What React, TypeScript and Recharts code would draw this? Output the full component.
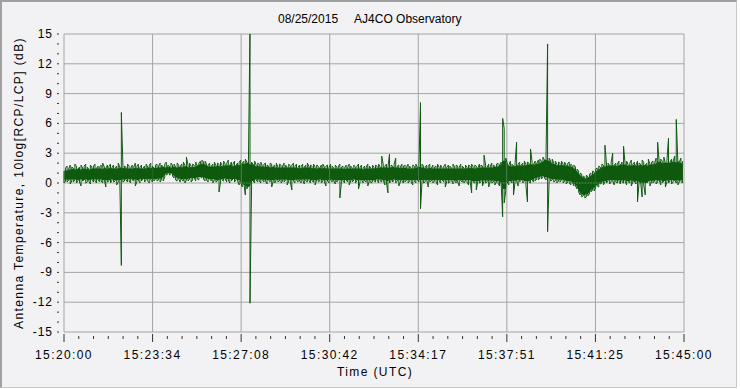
import { ComposedChart, Line, Area, XAxis, YAxis, ReferenceLine } from 'recharts';

// sample interval (s) between envelope buckets, record spans 15:20:00 - 15:45:00
const STEP = 3.75;
const SPAN = 1500;

// per-bucket upper envelope (dB), 20 buckets per row
const HI = [
    1.2, 1.5, 1.7, 1.4, 1.8, 1.6, 1.5, 1.9, 1.7, 1.4, 1.6, 1.8, 1.5, 1.7, 1.9, 1.6, 1.4, 1.8, 1.6, 1.7,
    1.9, 1.5, 1.7, 1.6, 1.8, 2.0, 1.6, 1.5, 1.8, 1.7, 1.9, 1.6, 1.8, 1.5, 1.7, 2.0, 1.6, 7.1, 1.8, 1.7,
    1.6, 1.9, 1.7, 1.5, 1.8, 1.6, 2.0, 1.7, 1.9, 1.6, 1.8, 1.5, 1.7, 1.9, 1.6, 1.8, 2.0, 1.7, 1.5, 1.8,
    1.9, 1.7, 2.0, 1.8, 1.6, 1.9, 2.1, 1.8, 1.7, 2.0, 1.8, 1.9, 1.6, 2.0, 1.8, 1.7, 1.9, 2.1, 1.8, 2.6,
    1.8, 2.0, 1.7, 1.9, 1.8, 2.1, 1.7, 2.0, 2.2, 2.3, 2.1, 2.2, 1.9, 1.8, 2.0, 1.7, 1.9, 2.1, 1.8, 2.0,
    1.9, 2.1, 1.8, 2.2, 1.9, 2.0, 2.3, 1.8, 2.1, 1.9, 2.2, 1.8, 2.0, 2.1, 2.3, 2.0, 2.2, 2.4, 2.1, 2.3,
    15.5, 2.1, 1.9, 2.2, 1.8, 2.0, 1.9, 2.1, 1.7, 1.9, 2.0, 1.8, 1.7, 2.0, 1.9, 1.7, 1.8, 2.0, 1.6, 1.9,
    1.8, 1.7, 2.0, 1.8, 1.6, 1.9, 1.7, 1.8, 2.0, 1.7, 1.9, 1.6, 1.8, 1.7, 1.9, 1.6, 1.8, 2.0, 1.7, 1.8,
    1.7, 1.9, 1.6, 1.8, 1.7, 1.5, 1.8, 1.9, 1.6, 1.7, 1.8, 1.6, 1.9, 1.7, 1.5, 1.8, 1.6, 1.7, 1.9, 1.6,
    1.7, 1.5, 1.8, 1.6, 1.9, 1.7, 1.5, 1.8, 1.6, 1.7, 1.9, 1.6, 1.8, 1.5, 1.7, 1.6, 1.9, 1.7, 1.5, 1.8,
    1.6, 1.8, 1.7, 1.9, 1.6, 2.7, 1.8, 1.7, 1.9, 1.6, 2.9, 1.8, 1.7, 1.9, 2.5, 1.7, 1.8, 1.6, 1.9, 1.7,
    1.8, 1.6, 1.9, 1.7, 1.5, 1.8, 1.7, 1.9, 1.6, 1.8, 8.1, 1.9, 1.7, 1.6, 1.8, 1.7, 1.9, 1.5, 1.8, 1.6,
    1.7, 1.9, 1.6, 1.8, 1.5, 1.7, 1.9, 1.6, 1.8, 1.7, 1.5, 1.9, 1.6, 1.8, 1.7, 1.6, 1.9, 1.7, 1.5, 1.8,
    1.6, 1.8, 1.7, 1.9, 1.6, 1.8, 1.7, 1.5, 1.9, 1.8, 1.7, 2.8, 1.8, 1.6, 1.9, 1.7, 2.0, 1.8, 1.7, 1.9,
    2.0, 1.8, 2.1, 6.5, 5.5, 2.5, 2.0, 1.8, 2.2, 1.9, 1.7, 2.0, 4.1, 1.9, 2.1, 1.8, 2.0, 2.2, 1.9, 2.1,
    2.0, 3.4, 2.1, 1.9, 2.2, 2.0, 2.3, 2.4, 2.2, 2.6, 2.3, 2.8, 14.0, 2.5, 2.2, 2.4, 2.0, 2.2, 1.9, 2.1,
    2.0, 2.2, 1.9, 2.1, 1.8, 2.0, 2.1, 1.9, 1.7, 1.8, 1.6, 1.4, 1.2, 1.0, 0.9, 0.7, 0.6, 0.8, 0.6, 0.9,
    1.0, 1.2, 1.1, 1.4, 1.5, 1.7, 1.6, 1.9, 1.8, 3.8, 1.9, 2.0, 1.7, 2.1, 3.0, 1.8, 2.0, 1.9, 2.2, 1.8,
    2.1, 3.7, 1.9, 2.2, 1.8, 2.0, 2.3, 1.9, 2.1, 1.8, 2.2, 2.0, 1.9, 2.3, 2.1, 1.8, 2.0, 2.4, 1.9, 2.1,
    2.2, 2.0, 2.5, 4.1, 2.1, 2.4, 2.2, 2.6, 2.0, 2.3, 4.5, 2.1, 2.4, 2.2, 2.7, 6.4, 2.3, 2.1, 2.5, 2.2,
];

// per-bucket lower envelope (dB)
const LO = [
    0.0, 0.2, 0.1, 0.3, -0.1, 0.2, 0.1, 0.3, 0.0, 0.2, 0.1, -0.3, 0.2, 0.3, 0.0, 0.1, 0.2, -0.1, 0.3, 0.1,
    0.2, 0.0, 0.3, 0.1, 0.2, 0.0, 0.3, -0.4, 0.1, 0.2, 0.0, 0.3, 0.1, 0.2, -0.2, 0.1, 0.3, -8.3, 0.1, 0.2,
    0.3, 0.1, 0.2, 0.0, 0.3, 0.2, -0.3, 0.1, 0.3, 0.0, 0.2, 0.4, 0.1, 0.3, 0.2, 0.0, 0.3, 0.1, 0.2, 0.4,
    0.2, 0.3, 0.1, 0.4, 0.2, 0.6, 0.8, 0.9, 0.8, 0.9, 0.7, 0.5, 0.3, 0.2, 0.4, 0.1, 0.3, 0.2, 0.0, 0.3,
    0.2, 0.4, 0.1, 0.3, 0.5, 0.2, 0.4, 0.3, 0.6, 0.5, 0.4, 0.2, 0.3, 0.1, 0.4, 0.2, 0.0, 0.3, 0.1, 0.2,
    -0.9, 0.1, 0.3, 0.2, 0.4, 0.1, 0.3, 0.0, 0.2, 0.4, 0.1, 0.3, 0.2, -0.2, 0.1, -0.4, 0.0, -1.2, -0.6, 0.1,
    -12.1, -0.5, 0.2, 0.0, 0.3, 0.1, 0.2, 0.0, 0.3, 0.1, 0.2, -0.1, 0.3, 0.1, -0.4, 0.2, 0.0, 0.3, 0.1, 0.2,
    0.0, 0.2, 0.1, 0.3, -0.2, 0.2, 0.1, -0.7, 0.2, 0.0, 0.3, 0.1, 0.2, 0.0, 0.3, -0.1, 0.2, 0.1, 0.3, 0.0,
    0.2, 0.1, -0.2, 0.3, 0.1, 0.2, 0.0, 0.2, 0.1, -0.3, 0.2, 0.0, 0.3, 0.1, 0.2, -0.1, 0.1, 0.3, -1.5, 0.1,
    0.2, 0.0, 0.3, 0.1, -0.2, 0.2, 0.1, 0.3, 0.0, 0.2, -0.6, 0.1, 0.3, 0.0, 0.2, 0.1, -0.3, 0.2, 0.0, 0.1,
    0.2, 0.1, 0.3, 0.0, 0.2, 0.1, 0.3, -0.2, 0.1, -1.0, 0.0, 0.2, 0.1, 0.3, 0.0, 0.2, -0.3, 0.1, 0.2, 0.0,
    0.1, 0.3, 0.0, 0.2, 0.1, -0.2, 0.2, 0.0, 0.3, 0.1, -2.6, 0.2, 0.0, 0.1, 0.3, -0.4, 0.1, 0.2, 0.0, 0.2,
    0.1, -0.2, 0.2, 0.0, 0.3, 0.1, -0.4, 0.2, 0.0, 0.1, 0.3, -0.1, 0.2, 0.0, 0.1, -0.3, 0.2, 0.1, 0.0, 0.2,
    0.1, -0.2, 0.2, -1.0, 0.1, 0.0, -0.7, 0.2, 0.0, 0.1, -0.3, 0.2, 0.0, 0.1, -0.4, 0.2, 0.0, 0.1, -0.2, 0.1,
    0.0, -0.3, 0.1, -3.4, -2.0, -0.8, 0.1, -0.2, 0.2, 0.0, -1.2, 0.1, 0.2, -0.3, 0.1, 0.3, 0.0, 0.2, -0.2, -1.9,
    0.1, 0.0, 0.3, 0.1, 0.2, 0.4, 0.3, 0.5, 0.4, 0.6, 0.5, 0.3, -4.9, 0.4, 0.2, 0.3, 0.1, 0.2, 0.0, 0.2,
    0.1, 0.3, 0.0, 0.2, -0.1, 0.1, 0.0, -0.2, 0.1, -0.3, -0.3, -0.6, -0.9, -1.2, -1.4, -1.3, -1.5, -1.4, -1.3, -1.1,
    -0.9, -0.7, -0.8, -0.5, -0.3, -0.4, -0.1, 0.0, -0.2, 0.1, 0.0, 0.2, -0.1, 0.1, 0.2, -0.2, 0.1, 0.0, 0.2, -0.1,
    0.1, 0.0, 0.2, -0.2, 0.1, 0.0, -0.3, 0.1, 0.2, -0.1, -1.9, 0.0, 0.1, -1.4, -0.2, -1.2, 0.0, 0.2, -0.3, 0.1,
    0.0, 0.2, -0.1, 0.1, 0.3, -0.2, 0.0, 0.2, -0.4, 0.1, 0.0, 0.2, -0.1, 0.1, 0.3, 0.0, -0.2, 0.1, 0.2, 0.0,
];

const X_LABELS = ['15:20:00', '15:23:34', '15:27:08', '15:30:42', '15:34:17', '15:37:51', '15:41:25', '15:45:00'];
const Y_MAJOR = [-15, -12, -9, -6, -3, 0, 3, 6, 9, 12, 15];

const MINOR_PER_MAJOR = 6;
const X_TICKS = Array.from({ length: 7 * MINOR_PER_MAJOR + 1 }, (_, i) => (i * SPAN) / (7 * MINOR_PER_MAJOR));
const X_MAJOR = X_LABELS.map((_, i) => (i * SPAN) / 7);
const Y_TICKS = Array.from({ length: 31 }, (_, i) => i - 15);

// 5-wide median, so isolated spikes don't bleed into the solid core of the band
const median5 = (arr: number[], i: number) => {
    const w = arr.slice(Math.max(0, i - 2), i + 3).sort((a, b) => a - b);
    return w[Math.floor(w.length / 2)];
};

// each bucket is drawn as a vertical stroke hi<->lo, direction alternating;
// the core band fills in between the strokes
const data = HI.flatMap((hi, i) => {
    const t = i * STEP;
    const core = [median5(LO, i) + 0.2, median5(HI, i) - 0.25];
    return i % 2 === 0
        ? [{ t, v: hi, core }, { t, v: LO[i], core }]
        : [{ t, v: LO[i], core }, { t, v: hi, core }];
});

const FONT = '"Liberation Sans", Arial, sans-serif';
const GRID = '#a4a4a4';
const TRACE = '#0f5a0f';

const XTick = (props: any) => {
    const { x, index } = props;
    const major = index % MINOR_PER_MAJOR === 0;
    return (
        <g>
            <line x1={x} x2={x} y1={major ? 334 : 336} y2={major ? 342 : 339} stroke="#333" strokeWidth={1} />
            {major && (
                <text x={x} y={359} textAnchor="middle" fontSize={12} fontFamily={FONT} letterSpacing={1.4} fill="#000">
                    {X_LABELS[index / MINOR_PER_MAJOR]}
                </text>
            )}
        </g>
    );
};

const YTick = (props: any) => {
    const { y, payload } = props;
    const v = payload.value;
    const major = v % 3 === 0;
    return (
        <g>
            <line x1={57} x2={59} y1={y} y2={y} stroke="#333" strokeWidth={1} />
            {major && (
                <text x={53} y={y + 4} textAnchor="end" fontSize={12} fontFamily={FONT} letterSpacing={1} fill="#000">
                    {v}
                </text>
            )}
        </g>
    );
};

const App = () => {
    return (
        <div style={{ position: 'absolute', left: 0, top: 0, width: 740, height: 389, background: '#ffffff' }}>
            <div style={{
                position: 'absolute', left: 0, top: 0, width: 737, height: 388,
                background: '#f2f2f4', boxSizing: 'border-box',
                borderLeft: '2px solid #a0a0a0', borderTop: '2px solid #a0a0a0',
                borderRight: '1px solid #c8c8c8', borderBottom: '1px solid #c8c8c8'
            }} />
            <ComposedChart
                width={740}
                height={389}
                data={data}
                margin={{ top: 34, right: 56, left: 0, bottom: 0 }}
                style={{ position: 'absolute', left: 0, top: 0 }}
            >
                <XAxis
                    dataKey="t"
                    type="number"
                    domain={[0, SPAN]}
                    ticks={X_TICKS}
                    interval={0}
                    height={57}
                    axisLine={false}
                    tickLine={false}
                    tick={<XTick />}
                />
                <YAxis
                    type="number"
                    domain={[-15, 15]}
                    ticks={Y_TICKS}
                    interval={0}
                    width={64}
                    allowDataOverflow
                    axisLine={false}
                    tickLine={false}
                    tick={<YTick />}
                />
                {Y_MAJOR.map(v => (
                    <ReferenceLine key={`h${v}`} y={v} stroke={GRID} strokeWidth={1} />
                ))}
                {X_MAJOR.map(v => (
                    <ReferenceLine key={`v${v}`} x={v} stroke={GRID} strokeWidth={1} />
                ))}
                <Area
                    type="linear"
                    dataKey="core"
                    stroke="none"
                    fill={TRACE}
                    fillOpacity={1}
                    dot={false}
                    activeDot={false}
                    isAnimationActive={false}
                />
                <Line
                    type="linear"
                    dataKey="v"
                    stroke={TRACE}
                    strokeWidth={1}
                    dot={false}
                    isAnimationActive={false}
                />
            </ComposedChart>
            <div style={{
                position: 'absolute', left: 278, top: 13, fontFamily: FONT, fontSize: 12,
                lineHeight: '12px', whiteSpace: 'pre', color: '#000'
            }}>
                {'08/25/2015     AJ4CO Observatory'}
            </div>
            <div style={{
                position: 'absolute', left: 275, width: 200, top: 366, textAlign: 'center',
                fontFamily: FONT, fontSize: 12, lineHeight: '12px', letterSpacing: 1.4, color: '#000'
            }}>
                Time (UTC)
            </div>
            <div style={{
                position: 'absolute', left: 19 - 160, top: 183 - 7, width: 320, textAlign: 'center',
                fontFamily: FONT, fontSize: 12, lineHeight: '14px', letterSpacing: 1.4, color: '#000',
                transform: 'rotate(-90deg)', transformOrigin: 'center', whiteSpace: 'nowrap'
            }}>
                Antenna Temperature, 10log[RCP/LCP] (dB)
            </div>
        </div>
    );
};

export default App;
